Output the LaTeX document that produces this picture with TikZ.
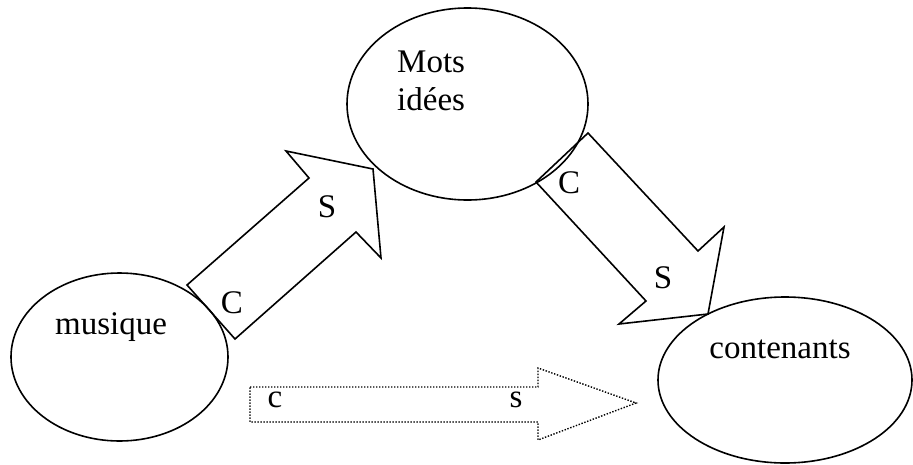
\documentclass[tikz,border=0pt]{standalone}
\usepackage{fontspec}
\setmainfont{Liberation Serif}
\usepackage{tikz}
\usetikzlibrary{shapes.geometric}

\begin{document}
\begin{tikzpicture}[
    x=1pt, y=-1pt,
    blob/.style={draw, ellipse, line width=1.6pt, inner sep=0pt},
    word/.style={font=\fontsize{33}{39}\selectfont, inner sep=0pt, anchor=base},
    blockarrow/.style={draw, line width=1.6pt, line join=miter},
    dotarrow/.style={draw, line width=1.4pt, dash pattern=on 1.4pt off 1.6pt},
  ]
    \useasboundingbox (0,0) rectangle (913,464);

    % the three ellipses
    \node[blob, minimum width=217pt, minimum height=168pt] (musique) at (119.5,357) {};
    \node[blob, minimum width=241pt, minimum height=192pt] (mots) at (467.5,104) {};
    \node[blob, minimum width=254pt, minimum height=166pt] (contenants) at (785,380) {};

    \node[word] (musiquetext) at (111,334) {musique};
    \node[word, anchor=base west] (motstext) at (397,72) {Mots};
    \node[word, anchor=base west] (ideestext) at (397,110) {idées};
    \node[word] (contenantstext) at (780,358) {contenants};

    % block arrow musique -> mots
    \draw[blockarrow] (187,285) -- (309,178) -- (286,151) -- (373,169)
      -- (381,258) -- (356,232) -- (235,339) -- cycle;
    \node[word] (c1) at (232,313) {C};
    \node[word] (s1) at (327,217) {S};

    % block arrow mots -> contenants
    \draw[blockarrow] (588,133) -- (698,251) -- (724,227) -- (708,314)
      -- (619,324) -- (646,301) -- (536,182) -- cycle;
    \node[word] (c2) at (569,193) {C};
    \node[word] (s2) at (663,288) {S};

    % dotted arrow musique -> contenants
    \draw[dotarrow] (250,387) -- (538,387) -- (538,368) -- (636,403)
      -- (538,440) -- (538,422) -- (250,422) -- cycle;
    \node[word] (c3) at (275,407) {c};
    \node[word] (s3) at (516,407) {s};
  \end{tikzpicture}
\end{document}
